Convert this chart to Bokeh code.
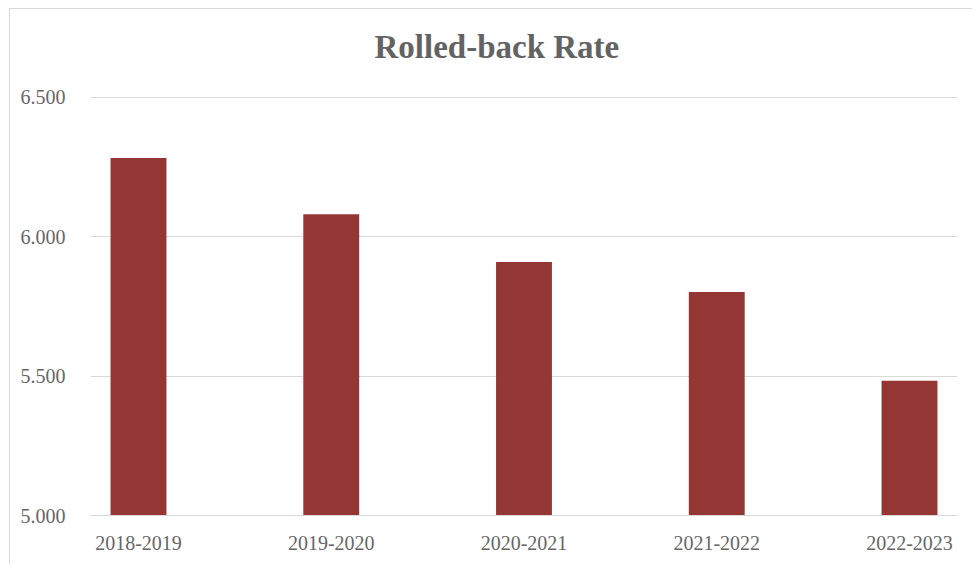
from bokeh.plotting import figure
from bokeh.models import FixedTicker, NumeralTickFormatter, Range1d, Title, ColumnDataSource
from bokeh.embed import file_html
from bokeh.resources import INLINE

# Data
title_text = "Rolled-back Rate"
categories = ["2018-2019", "2019-2020", "2020-2021", "2021-2022", "2022-2023"]
rates = [6.282, 6.081, 5.909, 5.802, 5.483]
y_ticks = [5.0, 5.5, 6.0, 6.5]
Y_MIN, Y_MAX = 5.0, 6.5

xs = list(range(len(categories)))
src = ColumnDataSource(dict(x=xs, top=rates, cat=categories))

SERIF = "Liberation Serif"
GREY = "#666666"

p = figure(
    width=963, height=556,
    output_backend="svg", toolbar_location=None,
    x_range=Range1d(-0.249, len(categories) - 1 + 0.249),
    y_range=Range1d(Y_MIN, Y_MAX + 0.003),
    min_border_left=80, min_border_right=16, min_border_top=87, min_border_bottom=50,
)
p.styles = {
    "margin-left": "9px", "margin-top": "8px",
    "border-left": "1px solid #d9d9d9", "border-top": "1px solid #d9d9d9",
}
p.outline_line_color = None
p.background_fill_color = "white"
p.border_fill_color = "white"

# spacer panel between the frame and the title
p.add_layout(Title(text=" ", text_font_size="1px", standoff=29), "above")

p.title = Title(text=title_text, align="left", offset=284,
                text_font=SERIF, text_font_size="33px", text_font_style="bold",
                text_color="#636363", standoff=0)

p.vbar(x="x", top="top", bottom=Y_MIN, width=0.29, source=src,
       fill_color="#943634", line_color=None)

# Y axis
p.yaxis.ticker = FixedTicker(ticks=y_ticks)
p.yaxis.formatter = NumeralTickFormatter(format="0.000")
p.yaxis.axis_line_color = None
p.yaxis.major_tick_line_color = None
p.yaxis.minor_tick_line_color = None
p.yaxis.major_label_standoff = 19
p.yaxis.major_label_text_font = SERIF
p.yaxis.major_label_text_font_size = "20px"
p.yaxis.major_label_text_color = GREY

# X axis
p.xaxis.ticker = FixedTicker(ticks=xs)
p.xaxis.major_label_overrides = {i: c for i, c in zip(xs, categories)}
p.xaxis.axis_line_color = "#d9d9d9"
p.xaxis.major_tick_line_color = None
p.xaxis.minor_tick_line_color = None
p.xaxis.major_label_standoff = 14
p.xaxis.major_label_text_font = SERIF
p.xaxis.major_label_text_font_size = "20px"
p.xaxis.major_label_text_color = GREY

p.xgrid.grid_line_color = None
p.ygrid.ticker = FixedTicker(ticks=y_ticks)
p.ygrid.grid_line_color = "#d9d9d9"
p.ygrid.grid_line_width = 1

open("out.html", "w").write(file_html(p, INLINE))
